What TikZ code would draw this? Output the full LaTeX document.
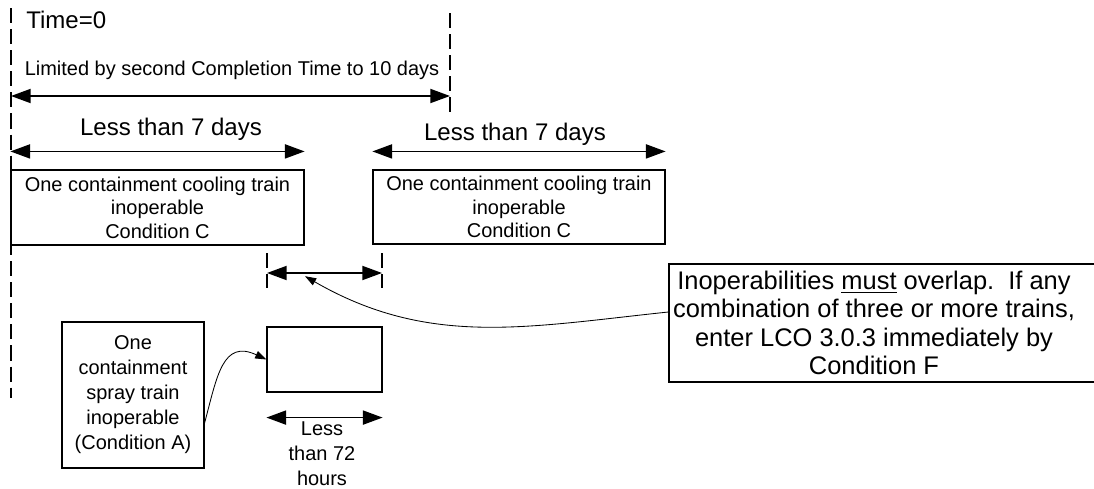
\documentclass[tikz,border=0pt]{standalone}
\usepackage{fontspec}
\setmainfont{Liberation Sans}
\usepackage{tikz}
\usetikzlibrary{arrows.meta}

\begin{document}
\begin{tikzpicture}[x=0.025cm, y=-0.025cm,
    box/.style={draw=black, line width=0.8pt, inner sep=0pt, align=center, font=\fontsize{14.2}{16.7}\selectfont},
    span/.style={{Triangle[length=14pt,width=10pt]}-{Triangle[length=14pt,width=10pt]}, line width=1.2pt},
    lead/.style={-{Triangle[length=8pt,width=5.5pt]}, line width=0.6pt},
    timeline/.style={line width=0.9pt, dash pattern=on 10.7pt off 4.3pt},
    big/.style={font=\fontsize{17.1}{20}\selectfont, inner sep=0pt},
    small/.style={font=\fontsize{14.2}{17.8}\selectfont, inner sep=0pt}]
            \useasboundingbox (0,0) rectangle (1094,488);

            \coordinate (zerotop) at (11,8);
            \coordinate (zerobot) at (11,398);
            \coordinate (tentop) at (450,13);
            \coordinate (tenbot) at (450,118);
            \coordinate (zeroend) at (11,96);
            \coordinate (tenend) at (450,96);

            \node[big, anchor=base west] (time0) at (26,28) {Time=0};
            \node[small, anchor=base] (limit) at (232,75) {Limited by second Completion Time to 10 days};

            \node[box, minimum width=7.325cm, minimum height=1.875cm] (train1) at (157.5,207.5) {One containment cooling train\\inoperable\\Condition C};
            \node[box, minimum width=7.3cm, minimum height=1.85cm] (train2) at (519,207) {One containment cooling train\\inoperable\\Condition C};
            \node[big, anchor=base] (less1) at (171,135) {Less than 7 days};
            \node[big, anchor=base] (less2) at (515,140) {Less than 7 days};

            \coordinate (ovltop1) at (267,253);
            \coordinate (ovlbot1) at (267,288);
            \coordinate (ovltop2) at (382,253);
            \coordinate (ovlbot2) at (382,288);
            \coordinate (ovl1) at (267,273);
            \coordinate (ovl2) at (382,273);

            \node[box, minimum width=2.875cm, minimum height=1.625cm] (gap) at (324.5,359.5) {};
            \node[box, minimum width=3.55cm, minimum height=3.65cm, font=\fontsize{14.2}{17.8}\selectfont] (spray) at (133,395) {One\\containment\\spray train\\inoperable\\(Condition A)};
            \node[small, align=center] (less72) at (322,454) {Less\\than 72\\hours};

            \node[draw=black, line width=0.8pt, minimum width=10.65cm, minimum height=2.95cm] (note) at (882,323) {};
            \node[font=\fontsize{18.1}{20.1}\selectfont, align=center, inner sep=0pt] (notetext) at (874,323) {Inoperabilities \underline{must} overlap.\ \ If any\\combination of three or more trains,\\enter LCO 3.0.3 immediately by\\Condition F};

            \draw[timeline] (zerotop) -- (zerobot);
            \draw[timeline] (tentop) -- (tenbot);
            \draw[span] (zeroend) -- (tenend);
            \draw[span] ([yshift=0.45cm]train1.north west) -- ([yshift=0.45cm]train1.north east);
            \draw[span] ([yshift=0.45cm]train2.north west) -- ([yshift=0.45cm]train2.north east);

            \draw[timeline] (ovltop1) -- (ovlbot1);
            \draw[timeline] (ovltop2) -- (ovlbot2);
            \draw[span] (ovl1) -- (ovl2);
            \draw[span] ([yshift=-0.625cm]gap.south west) -- ([yshift=-0.625cm]gap.south east);

            \draw[lead] ([yshift=0.275cm]note.west) to[out=186, in=-30] ([xshift=0.95cm,yshift=-0.08cm]ovl1);
            \draw[lead] ([yshift=-0.7cm]spray.east) to[out=75, in=155, looseness=1.4] (gap.west);
        \end{tikzpicture}
\end{document}
